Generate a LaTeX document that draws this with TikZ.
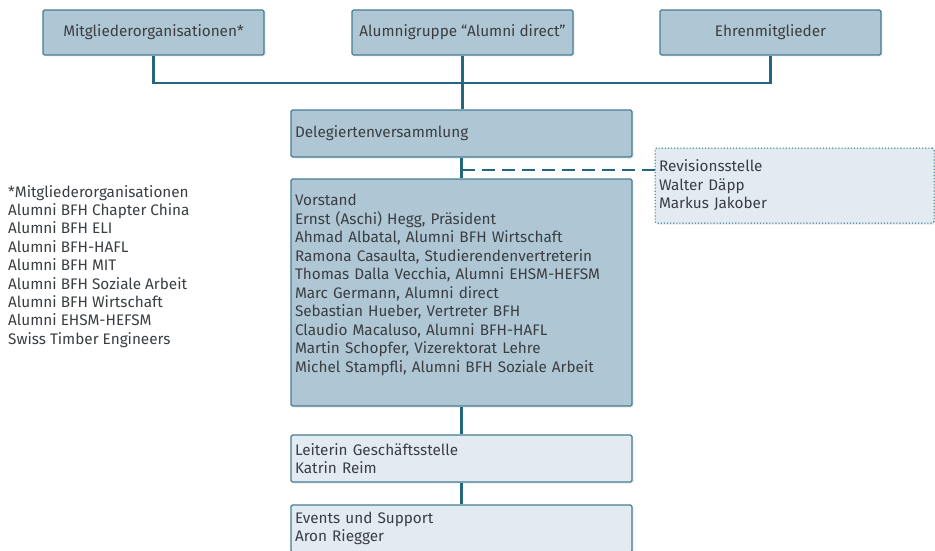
\documentclass[tikz,border=0pt]{standalone}
\usepackage{fontspec}
\setmainfont{Fira Sans}
\usetikzlibrary{shadows}
\definecolor{boxdark}{HTML}{AFC7D4}
\definecolor{boxlight}{HTML}{E3EBF2}
\definecolor{boxline}{HTML}{467D93}
\definecolor{linkcol}{HTML}{22677F}
\definecolor{txtcol}{HTML}{3A3E42}
\tikzset{
	orgbox/.style={draw=boxline, line width=1.1pt, rounded corners=1.5pt, fill=boxdark,
		text=txtcol, inner sep=0pt, font=\fontsize{15.3}{18.5}\selectfont,
		drop shadow={shadow xshift=1.5pt, shadow yshift=-1.5pt, opacity=0.18}},
	listbox/.style={orgbox, align=left, text width=333pt, inner xsep=4pt},
	lightbox/.style={listbox, fill=boxlight},
	link/.style={draw=linkcol, line width=2.6pt},
	dashlink/.style={draw=linkcol, line width=2.2pt, dash pattern=on 13pt off 7pt}
}
\begin{document}
\begin{tikzpicture}[x=1pt,y=-1pt]
		% % Frame
			\useasboundingbox (0,0) rectangle (935,551);
		% % Top row
			\foreach \x/\name/\label in {
				153.5/mo/Mitgliederorganisationen*,
				462.5/ag/{Alumnigruppe “Alumni direct”},
				770.5/em/Ehrenmitglieder
			}{
				\node[orgbox, minimum width=221pt, minimum height=45pt] (\name) at (\x,32.5) {\label};
			}
		% % Main column
			\node[listbox, minimum height=227pt] (vs) at (461.5,292.5) {Vorstand\\
				Ernst (Aschi) Hegg, Präsident\\
				Ahmad Albatal, Alumni BFH Wirtschaft\\
				Ramona Casaulta, Studierendenvertreterin\\
				Thomas Dalla Vecchia, Alumni EHSM-HEFSM\\
				Marc Germann, Alumni direct\\
				Sebastian Hueber, Vertreter BFH\\
				Claudio Macaluso, Alumni BFH-HAFL\\
				Martin Schopfer, Vizerektorat Lehre\\
				Michel Stampfli, Alumni BFH Soziale Arbeit\\[0pt]\mbox{}};
			\node[listbox, minimum height=47pt] (dv) at (461.5,133.5) {Delegiertenversammlung};
			\node[lightbox, minimum height=47pt] (gs) at (461.5,458.5) {Leiterin Geschäftsstelle\\Katrin Reim};
			\node[lightbox, minimum height=47pt] (ev) at (461.5,528.5) {Events und Support\\Aron Riegger};
		% % Audit
			\node[lightbox, draw=linkcol, dotted, line width=1pt, text width=271pt, minimum height=75pt] (rs) at (794.5,185.5)
				{Revisionsstelle\\Walter Däpp\\Markus Jakober};
		% % Member list
			\node[anchor=north west, inner sep=0pt, align=left, text=txtcol, font=\fontsize{15.3}{18.4}\selectfont] (ml) at (8,185)
				{*Mitgliederorganisationen\\
				Alumni BFH Chapter China\\
				Alumni BFH ELI\\
				Alumni BFH-HAFL\\
				Alumni BFH MIT\\
				Alumni BFH Soziale Arbeit\\
				Alumni BFH Wirtschaft\\
				Alumni EHSM-HEFSM\\
				Swiss Timber Engineers};
		% % Connectors
			\coordinate (bus) at (0,83);
			\coordinate (rj) at (462,170);
			\begin{scope}[on background layer/.try]
				\draw[link] (mo.south) |- (em.south |- bus) -- (em.south);
				\draw[link] (ag.south) -- (dv.north -| ag.south);
				\draw[link] (dv.south) -- (vs.north);
				\draw[link] (vs.south) -- (gs.north);
				\draw[link] (gs.south) -- (ev.north);
				\draw[dashlink] (rj) -- (rj -| rs.west);
			\end{scope}
\end{tikzpicture}
\end{document}
